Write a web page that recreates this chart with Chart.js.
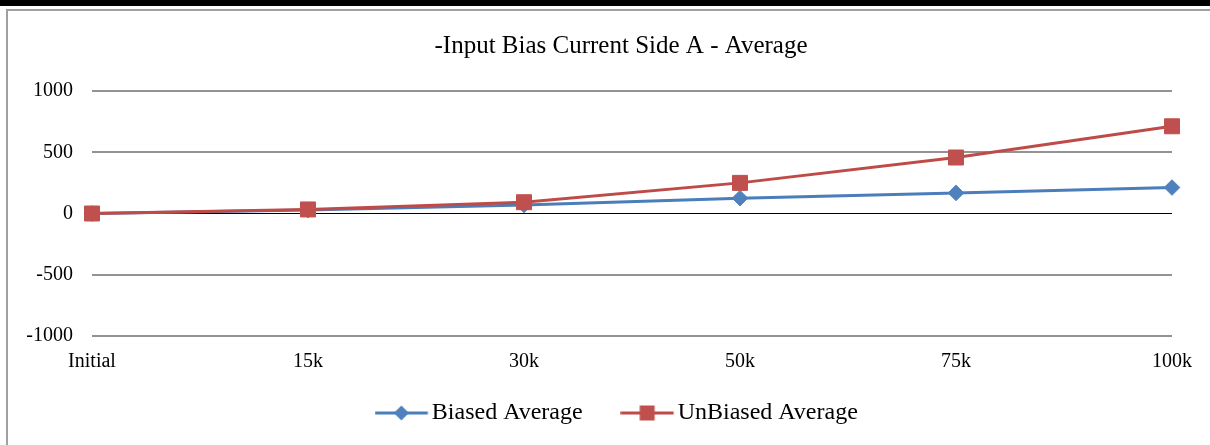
<!DOCTYPE html>
<html>
<head>
<meta charset="utf-8">
<script src="https://cdn.jsdelivr.net/npm/chart.js@4/dist/chart.umd.min.js"></script>
<style>
  html, body { margin: 0; padding: 0; background: #fff; overflow: hidden; }
  #topbar { position: absolute; left: 0; top: 0; width: 1210px; height: 6px; background: #000; }
  #frame { position: absolute; left: 6px; top: 9px; width: 1300px; height: 600px; border: 2px solid #a0a0a0; }
  #wrap { position: absolute; left: 0; top: 0; width: 1210px; height: 445px; }
</style>
</head>
<body>
<div id="topbar"></div>
<div id="frame"></div>
<div id="wrap"><canvas id="chart" width="1210" height="445"></canvas></div>
<script>
// ---- Data ----
const categories = ['Initial', '15k', '30k', '50k', '75k', '100k'];
const biasedAvg   = [0, 28, 70, 125, 168, 212];
const unbiasedAvg = [0, 33, 92, 250, 457, 712];
const yTicks = [-1000, -500, 0, 500, 1000];

const BLUE = '#4a7ebb', BLUE_PT = '#4f81bd';
const RED  = '#be4b48', RED_PT  = '#c0504d';
const FONT = "'Liberation Serif', 'Times New Roman', serif";

const LEG_BOX = 35.6;   // legend box width (pointStyleWidth)
const LEG_PAD = 47.4;   // legend padding

// legend swatch: line with marker in the middle, ending 4px before the label text
function legendSwatch(lineCol, ptCol, kind) {
  const c = document.createElement('canvas');
  c.width = Math.ceil(Math.max(LEG_BOX + 16, 90 - LEG_BOX));
  c.height = 18;
  const g = c.getContext('2d');
  const x1 = LEG_BOX / 2 + 8 + c.width / 2, x0 = x1 - 53, cy = 9, cx = (x0 + x1) / 2;
  g.strokeStyle = lineCol;
  g.lineWidth = 3;
  g.beginPath(); g.moveTo(x0, cy); g.lineTo(x1, cy); g.stroke();
  g.fillStyle = ptCol;
  g.beginPath();
  if (kind === 'diamond') {
    g.moveTo(cx, cy - 7.5); g.lineTo(cx + 7.5, cy); g.lineTo(cx, cy + 7.5); g.lineTo(cx - 7.5, cy);
  } else {
    g.rect(cx - 7.5, cy - 7.5, 15, 15);
  }
  g.closePath(); g.fill();
  return c;
}

const swatches = [legendSwatch(BLUE, BLUE_PT, 'diamond'), legendSwatch(RED, RED_PT, 'square')];

// tick labels may spill outside the (narrow) axis boxes
const noLabelClip = s => { s._computeLabelArea = () => undefined; };

new Chart(document.getElementById('chart'), {
  type: 'line',
  data: {
    labels: categories,
    datasets: [
      {
        label: 'Biased Average',
        data: biasedAvg,
        borderColor: BLUE,
        borderWidth: 3,
        pointStyle: 'rectRot',
        pointRadius: 7.8,
        pointBackgroundColor: BLUE_PT,
        pointBorderColor: BLUE_PT,
        pointBorderWidth: 1,
        tension: 0,
        clip: false,
        order: 1,
      },
      {
        label: 'UnBiased Average',
        data: unbiasedAvg,
        borderColor: RED,
        borderWidth: 3,
        pointStyle: 'rect',
        pointRadius: 10.6,
        pointBackgroundColor: RED_PT,
        pointBorderColor: RED_PT,
        pointBorderWidth: 1,
        tension: 0,
        clip: false,
        order: 0,
      }
    ]
  },
  options: {
    responsive: false,
    animation: false,
    events: [],
    layout: { padding: { left: 70, right: 38, top: 0, bottom: 10 } },
    plugins: {
      title: {
        display: true,
        text: '-Input Bias Current Side A - Average',
        color: '#000',
        font: { family: FONT, size: 25, weight: 'normal' },
        padding: { top: 31, bottom: 30 },
      },
      legend: {
        position: 'bottom',
        labels: {
          color: '#000',
          font: { family: FONT, size: 24 },
          usePointStyle: true,
          pointStyleWidth: LEG_BOX,
          boxHeight: 18,
          padding: LEG_PAD,
          generateLabels: chart => chart.data.datasets.map((ds, i) => ({
            text: ds.label,
            pointStyle: swatches[i],
            fillStyle: 'transparent',
            strokeStyle: 'transparent',
            lineWidth: 0,
            datasetIndex: i,
            fontColor: '#000',
          })),
        },
      },
      tooltip: { enabled: false },
    },
    scales: {
      x: {
        type: 'category',
        offset: false,
        grid: { display: false, drawTicks: false },
        border: { display: false },
        ticks: {
          color: '#000',
          font: { family: FONT, size: 20 },
          padding: 14,
          maxRotation: 0,
          autoSkip: false,
        },
        afterFit: s => { s.height = 17.6; s.paddingLeft = 0; s.paddingRight = 0; noLabelClip(s); },
      },
      y: {
        min: -1000, max: 1000,
        grid: {
          drawTicks: false,
          color: c => c.tick && c.tick.value === 0 ? '#000' : '#939393',
          lineWidth: c => c.tick && c.tick.value === 0 ? 1 : 2,
        },
        border: { display: false },
        ticks: {
          stepSize: 500,
          color: '#000',
          font: { family: FONT, size: 20 },
          padding: 19,
          callback: v => yTicks.includes(v) ? String(v) : '',
        },
        afterFit: s => { s.width = 22; s.paddingTop = 0; s.paddingBottom = 0; noLabelClip(s); },
      }
    }
  }
});
</script>
</body>
</html>
